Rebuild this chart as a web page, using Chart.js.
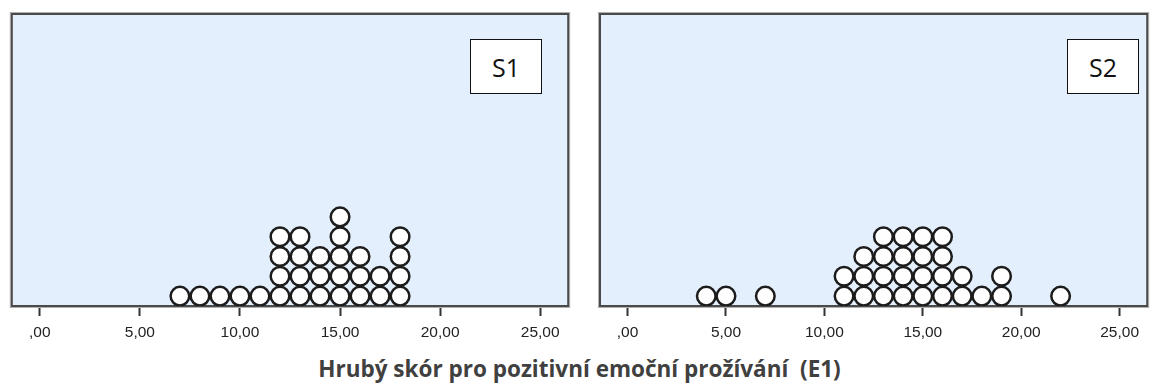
<!DOCTYPE html>
<html>
<head>
<meta charset="utf-8">
<script src="https://cdn.jsdelivr.net/npm/chart.js@4/dist/chart.umd.min.js"></script>
<style>
  html, body { margin: 0; padding: 0; background: #ffffff; }
  #wrap { position: relative; width: 1159px; height: 392px; overflow: hidden; }
  canvas { position: absolute; top: 0; }
  .tag {
    position: absolute; top: 39px; width: 70px; height: 53px;
    border: 1.5px solid #111; background: #fff;
    font-family: "Open Sans", sans-serif; font-size: 25px; color: #111;
    display: flex; align-items: center; justify-content: center;
  }
  #title {
    position: absolute; left: 0; width: 1159px; top: 354px; text-align: center;
    font-family: "Open Sans", sans-serif; font-weight: bold; font-size: 22.5px; color: #404040;
    white-space: pre; line-height: 30px;
  }
</style>
</head>
<body>
<div id="wrap">
  <canvas id="c1" width="580" height="345" style="left:0px"></canvas>
  <canvas id="c2" width="579" height="345" style="left:580px"></canvas>
  <div class="tag" style="left:470px">S1</div>
  <div class="tag" style="left:1067px">S2</div>
  <div id="title">Hrubý skór pro pozitivní emoční prožívání  (E1)</div>
</div>
<script>
// Raw scores (E1) and how many respondents had each score
const s1Scores = [7, 8, 9, 10, 11, 12, 13, 14, 15, 16, 17, 18];
const s1Counts = [1, 1, 1, 1, 1, 4, 4, 3, 5, 3, 2, 4];
const s2Scores = [4, 5, 7, 11, 12, 13, 14, 15, 16, 17, 18, 19, 22];
const s2Counts = [1, 1, 1, 2, 3, 4, 4, 4, 4, 2, 1, 2, 1];
const xTicks = [0, 5, 10, 15, 20, 25];
const xTickLabels = [",00", "5,00", "10,00", "15,00", "20,00", "25,00"];

// One dot per respondent, stacked upward over its score
function stackDots(scores, counts) {
  const pts = [];
  scores.forEach((s, i) => {
    for (let k = 0; k < counts[i]; k++) pts.push({ x: s, y: k + 0.5 });
  });
  return pts;
}

const framePlugin = {
  id: 'frame',
  beforeDatasetsDraw(chart) {
    const { ctx, chartArea: a } = chart;
    ctx.save();
    ctx.fillStyle = '#e3effc';
    ctx.fillRect(a.left, a.top, a.right - a.left, a.bottom - a.top);
    ctx.strokeStyle = '#b0b0b0';
    ctx.lineWidth = 1;
    ctx.strokeRect(a.left - 1.5, a.top - 1.5, a.right - a.left + 3, a.bottom - a.top + 3);
    ctx.strokeStyle = '#4a4a4a';
    ctx.lineWidth = 2;
    ctx.strokeRect(a.left, a.top, a.right - a.left, a.bottom - a.top);
    ctx.restore();
  }
};

function makePanel(id, scores, counts, padLeft, padRight) {
  return new Chart(document.getElementById(id), {
    type: 'scatter',
    data: {
      datasets: [{
        data: stackDots(scores, counts),
        pointRadius: 9.3,
        pointHoverRadius: 9.3,
        pointBackgroundColor: '#ffffff',
        pointBorderColor: '#1c1c1c',
        pointBorderWidth: 2.5
      }]
    },
    options: {
      responsive: false,
      animation: false,
      events: [],
      layout: { padding: { left: padLeft, right: padRight, top: 14, bottom: 0 } },
      plugins: { legend: { display: false }, tooltip: { enabled: false } },
      scales: {
        x: {
          type: 'linear', min: -1.4, max: 26.4,
          afterBuildTicks: (s) => { s.ticks = xTicks.map(v => ({ value: v })); },
          afterFit: (s) => { s.height = 39; },
          ticks: {
            autoSkip: false, maxRotation: 0, padding: 7,
            color: '#222', font: { family: 'Liberation Sans, Arial, sans-serif', size: 15.5 },
            callback: (v) => xTickLabels[xTicks.indexOf(v)]
          },
          grid: { drawOnChartArea: false, tickLength: 10, tickWidth: 2, tickColor: '#333' },
          border: { display: false }
        },
        y: { display: false, min: 0, max: 14.75 }
      }
    },
    plugins: [framePlugin]
  });
}

makePanel('c1', s1Scores, s1Counts, 11, 9);
makePanel('c2', s2Scores, s2Counts, 20, 2);
</script>
</body>
</html>
